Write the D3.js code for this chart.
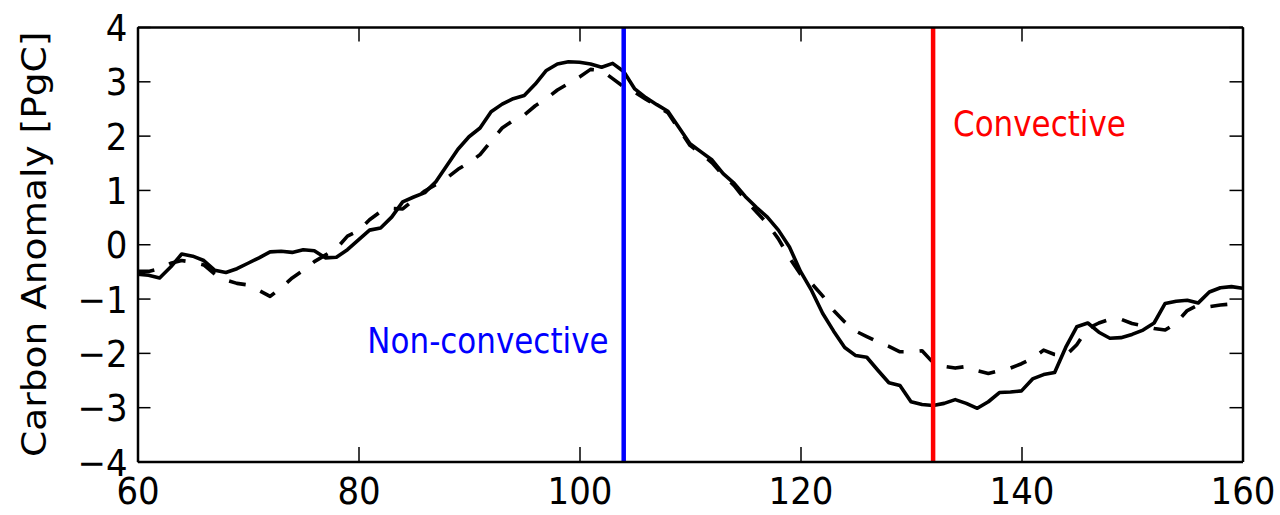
<!DOCTYPE html>
<html>
<head>
<meta charset="utf-8">
<script src="https://cdn.jsdelivr.net/npm/d3@7"></script>
<style>
  html, body { margin: 0; padding: 0; background: #fff; }
  svg { display: block; font-family: "DejaVu Sans", sans-serif; }
</style>
</head>
<body>
<svg id="chart" width="1280" height="515"></svg>
<script>
// Time axis (days) shared by both runs
const days = d3.range(60, 161);

// Carbon anomaly, solid run [PgC]
const solidRun = [
  -0.55, -0.57, -0.62, -0.42, -0.18, -0.22, -0.30, -0.48, -0.52, -0.45,
  -0.35, -0.25, -0.14, -0.13, -0.15, -0.10, -0.12, -0.25, -0.24, -0.10,
   0.08,  0.26,  0.30,  0.50,  0.78,  0.87,  0.95,  1.15,  1.45,  1.75,
   1.98,  2.14,  2.44,  2.58,  2.68,  2.74,  2.95,  3.20,  3.32,  3.36,
   3.35,  3.32,  3.26,  3.33,  3.18,  2.86,  2.70,  2.57,  2.45,  2.15,
   1.85,  1.70,  1.55,  1.30,  1.12,  0.88,  0.68,  0.50,  0.26, -0.05,
  -0.50, -0.85, -1.27, -1.60, -1.90, -2.05, -2.08, -2.32, -2.55, -2.60,
  -2.90, -2.95, -2.97, -2.93, -2.86, -2.93, -3.02, -2.90, -2.73, -2.72,
  -2.70, -2.48, -2.40, -2.36, -1.90, -1.52, -1.45, -1.62, -1.73, -1.72,
  -1.66, -1.58, -1.45, -1.09, -1.05, -1.03, -1.08, -0.88, -0.80, -0.78,
  -0.81
];

// Carbon anomaly, dashed run [PgC]
const dashedRun = [
  -0.50, -0.50, -0.45, -0.35, -0.30, -0.33, -0.38, -0.55, -0.66, -0.72,
  -0.75, -0.85, -0.96, -0.80, -0.62, -0.48, -0.32, -0.20, -0.08,  0.15,
   0.25,  0.45,  0.60,  0.66,  0.65,  0.82,  0.98,  1.10,  1.22,  1.38,
   1.50,  1.65,  1.90,  2.14,  2.28,  2.38,  2.55,  2.68,  2.84,  2.96,
   3.08,  3.22,  3.20,  3.05,  2.90,  2.80,  2.67,  2.55,  2.42,  2.12,
   1.82,  1.67,  1.50,  1.27,  1.08,  0.82,  0.60,  0.38,  0.10, -0.25,
  -0.55, -0.72, -0.95, -1.22, -1.43, -1.60, -1.70, -1.80, -1.88, -1.98,
  -1.98, -1.96, -2.18, -2.25, -2.28, -2.25, -2.33, -2.38, -2.33, -2.28,
  -2.20, -2.10, -1.95, -2.03, -2.05, -1.85, -1.55, -1.45, -1.38, -1.38,
  -1.46, -1.50, -1.55, -1.58, -1.45, -1.22, -1.12, -1.15, -1.12, -1.10,
  -1.12
];

// Event markers
const eventDays   = [104, 132];
const eventLabels = ["Non-convective", "Convective"];
const eventColors = ["#0000ff", "#ff0000"];
const labelX      = [80.8, 133.8];
const labelY      = [-2, 2];

const xTicks = [60, 80, 100, 120, 140, 160];
const yTicks = [-4, -3, -2, -1, 0, 1, 2, 3, 4];
const yTitle = "Carbon Anomaly [PgC]";

const svg = d3.select("#chart");
const plot = { left: 137.5, right: 1242.5, top: 27, bottom: 461.5 };
const sy = 1.12; // vertical stretch of the lettering

const x = d3.scaleLinear().domain([60, 160]).range([plot.left, plot.right]);
const y = d3.scaleLinear().domain([-4, 4]).range([plot.bottom, plot.top]);

svg.append("clipPath").attr("id", "clip")
  .append("rect")
  .attr("x", plot.left).attr("y", plot.top)
  .attr("width", plot.right - plot.left).attr("height", plot.bottom - plot.top);

const line = d3.line().x(d => x(d[0])).y(d => y(d[1]));
const solidPts = days.map((d, i) => [d, solidRun[i]]);
const dashedPts = days.map((d, i) => [d, dashedRun[i]]);

const g = svg.append("g").attr("clip-path", "url(#clip)");

g.append("path").datum(dashedPts)
  .attr("d", line).attr("fill", "none")
  .attr("stroke", "#000").attr("stroke-width", 3.6)
  .attr("stroke-dasharray", "17,16")
  .attr("stroke-linejoin", "round");

g.append("path").datum(solidPts)
  .attr("d", line).attr("fill", "none")
  .attr("stroke", "#000").attr("stroke-width", 3.6)
  .attr("stroke-linejoin", "round").attr("stroke-linecap", "round");

g.selectAll("line.event").data(eventDays).enter().append("line")
  .attr("class", "event")
  .attr("x1", d => x(d)).attr("x2", d => x(d))
  .attr("y1", plot.top).attr("y2", plot.bottom)
  .attr("stroke", (d, i) => eventColors[i]).attr("stroke-width", 4.5);

svg.selectAll("text.event").data(eventLabels).enter().append("text")
  .attr("class", "event")
  .attr("transform", (d, i) => `translate(${x(labelX[i])},${y(labelY[i])}) scale(1,${sy})`)
  .attr("fill", (d, i) => eventColors[i])
  .attr("font-size", 31)
  .text(d => d);

// Axes: ticks point inward on all four sides
const tickLen = 13;
function styleAxis(sel) {
  sel.select(".domain").attr("stroke", "#000").attr("stroke-width", 2.5);
  sel.selectAll(".tick line").attr("stroke", "#000").attr("stroke-width", 1.5);
}

const fmt = d => d < 0 ? "\u2212" + Math.abs(d) : String(d);

const axB = svg.append("g").attr("transform", `translate(0,${plot.bottom})`)
  .call(d3.axisBottom(x).tickValues(xTicks).tickFormat(fmt)
    .tickSizeInner(-tickLen * sy).tickSizeOuter(0).tickPadding(0));
styleAxis(axB);
axB.selectAll(".tick text")
  .attr("y", 0).attr("dy", null)
  .attr("transform", `translate(0,42) scale(1,${sy})`)
  .attr("font-size", 34).attr("fill", "#000")
  .attr("font-family", "DejaVu Sans");

const axT = svg.append("g").attr("transform", `translate(0,${plot.top})`)
  .call(d3.axisTop(x).tickValues(xTicks).tickFormat("")
    .tickSizeInner(-tickLen * sy).tickSizeOuter(0));
styleAxis(axT);

const axL = svg.append("g").attr("transform", `translate(${plot.left},0)`)
  .call(d3.axisLeft(y).tickValues(yTicks).tickFormat(fmt)
    .tickSizeInner(-tickLen).tickSizeOuter(0).tickPadding(10));
styleAxis(axL);
axL.selectAll(".tick text")
  .attr("dy", null).attr("y", 0)
  .attr("transform", `translate(0,13.5) scale(1,${sy})`)
  .attr("font-size", 34).attr("fill", "#000")
  .attr("font-family", "DejaVu Sans");

const axR = svg.append("g").attr("transform", `translate(${plot.right},0)`)
  .call(d3.axisRight(y).tickValues(yTicks).tickFormat("")
    .tickSizeInner(-tickLen).tickSizeOuter(0));
styleAxis(axR);

svg.append("text")
  .attr("transform", `translate(46,${(plot.top + plot.bottom) / 2}) scale(1,${sy}) rotate(-90)`)
  .attr("text-anchor", "middle")
  .attr("font-size", 33.5)
  .attr("fill", "#000")
  .text(yTitle);
</script>
</body>
</html>
